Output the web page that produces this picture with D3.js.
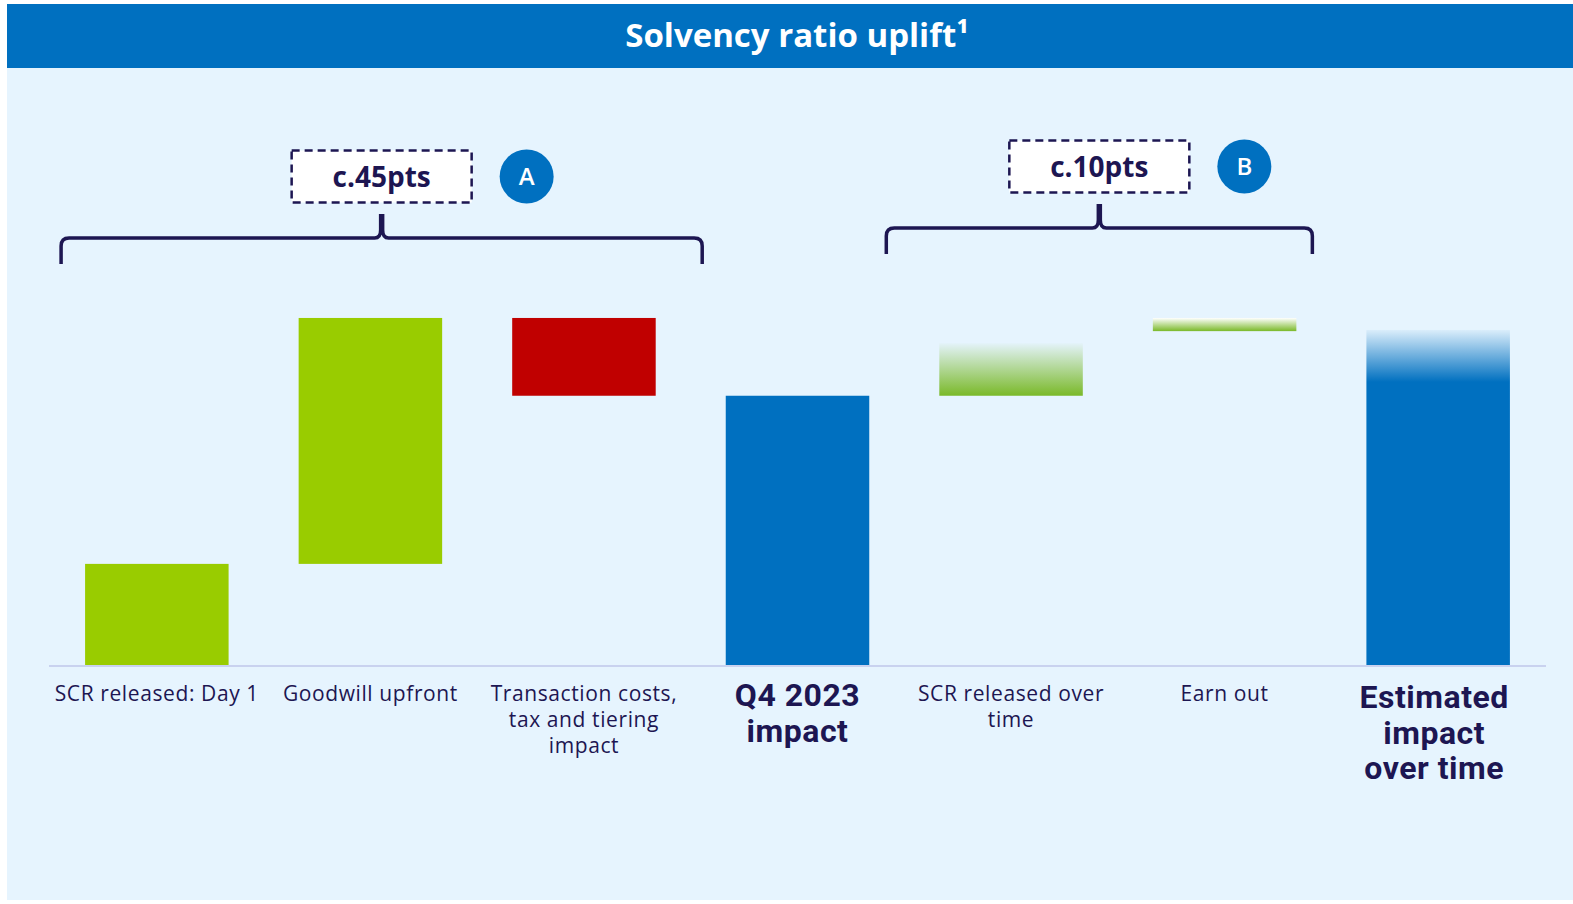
<!DOCTYPE html>
<html>
<head>
<meta charset="utf-8">
<script src="https://cdn.jsdelivr.net/npm/d3@7"></script>
<style>
  html, body { margin: 0; padding: 0; background: #ffffff; }
  svg { display: block; }
  text { font-family: "Open Sans", "Noto Sans", sans-serif; }
</style>
</head>
<body>
<svg id="chart" width="1573" height="904"></svg>
<script>
// ---- data (in solvency points) ----
const categories = ["SCR released: Day 1", "Goodwill upfront", "Transaction costs, tax and tiering impact",
  "Q4 2023 impact", "SCR released over time", "Earn out", "Estimated impact over time"];
const labelLines = [["SCR released: Day 1"], ["Goodwill upfront"], ["Transaction costs,", "tax and tiering", "impact"],
  ["Q4 2023", "impact"], ["SCR released over", "time"], ["Earn out"], ["Estimated", "impact", "over time"]];
const barStart = [0, 16.9, 58, 0, 45, 55.8, 0];
const barEnd   = [16.9, 58, 45, 45, 53.8, 58, 56];
const barKind  = ["up", "up", "down", "total", "upFade", "upFadeWhite", "totalFade"];
const isTotal  = [false, false, false, true, false, false, true];
const groupLabels = ["c.45pts", "c.10pts"];
const groupLetters = ["A", "B"];
const groupFrom = [0, 4];
const groupTo = [2, 5];
const yMax = 60;

// ---- layout ----
const svg = d3.select("#chart");
const W = 1573, H = 904;
const navy = "#1d1652";
const blue = "#0070c0";
const green = "#99cc00";
const red = "#c00000";
const bg = "#e6f4fe";

svg.append("rect").attr("x", 7).attr("y", 4).attr("width", W - 7).attr("height", 896).attr("fill", bg);
svg.append("rect").attr("x", 7).attr("y", 4).attr("width", W - 7).attr("height", 64).attr("fill", blue);
svg.append("text").attr("x", 797).attr("y", 47).attr("text-anchor", "middle")
  .attr("fill", "#ffffff").attr("font-weight", 700).attr("font-size", 33)
  .text("Solvency ratio uplift¹");

const x = d3.scaleBand().domain(categories).range([49, 1546]).paddingInner(0.328).paddingOuter(0.169);
const y = d3.scaleLinear().domain([0, yMax]).range([665, 306]);

// gradients
const defs = svg.append("defs");
const g1 = defs.append("linearGradient").attr("id", "fadeGreen").attr("x1", 0).attr("y1", 1).attr("x2", 0).attr("y2", 0);
g1.append("stop").attr("offset", "0%").attr("stop-color", "#7ab929");
g1.append("stop").attr("offset", "100%").attr("stop-color", "#7ab929").attr("stop-opacity", 0.02);
const g2 = defs.append("linearGradient").attr("id", "fadeGreenWhite").attr("x1", 0).attr("y1", 1).attr("x2", 0).attr("y2", 0);
g2.append("stop").attr("offset", "0%").attr("stop-color", "#7ab929");
g2.append("stop").attr("offset", "100%").attr("stop-color", "#ffffff");
const g3 = defs.append("linearGradient").attr("id", "fadeBlue").attr("x1", 0).attr("y1", 1).attr("x2", 0).attr("y2", 0);
g3.append("stop").attr("offset", "0%").attr("stop-color", blue);
g3.append("stop").attr("offset", "84.5%").attr("stop-color", blue);
g3.append("stop").attr("offset", "100%").attr("stop-color", blue).attr("stop-opacity", 0.05);

const fillFor = { up: green, down: red, total: blue, upFade: "url(#fadeGreen)", upFadeWhite: "url(#fadeGreenWhite)", totalFade: "url(#fadeBlue)" };

// baseline
svg.append("line").attr("x1", x.range()[0]).attr("x2", x.range()[1]).attr("y1", y(0) + 1).attr("y2", y(0) + 1)
  .attr("stroke", "#c9d2ef").attr("stroke-width", 2);

// bars
svg.append("g").selectAll("rect").data(categories).join("rect")
  .attr("x", d => x(d))
  .attr("width", x.bandwidth())
  .attr("y", (d, i) => y(Math.max(barStart[i], barEnd[i])))
  .attr("height", (d, i) => Math.abs(y(barStart[i]) - y(barEnd[i])))
  .attr("fill", (d, i) => fillFor[barKind[i]]);

// labels
const lab = svg.append("g");
categories.forEach((c, i) => {
  const cx = x(c) + x.bandwidth() / 2 - (i === 6 ? 4 : 0);
  const big = isTotal[i];
  const lh = big ? 35.5 : 26;
  const y0 = big ? (i === 6 ? 708 : 706) : 701;
  const t = lab.append("text").attr("text-anchor", "middle").attr("fill", navy)
    .attr("font-size", big ? 32 : 21).attr("font-weight", big ? 700 : 400)
    .attr("letter-spacing", big ? 0.5 : 0.6)
    .style("font-family", big ? "Roboto, 'Open Sans', sans-serif" : null);
  labelLines[i].forEach((ln, k) => {
    t.append("tspan").attr("x", cx).attr("y", y0 + k * lh).text(ln);
  });
});

// braces and annotations
const braceY = [238, 228];
const boxCY = [176.5, 166.5];
const braceLeftOff = [-24, -53];
const braceRightOff = [46.5, 16];
groupLabels.forEach((g, i) => {
  const xa = x(categories[groupFrom[i]]) + braceLeftOff[i];
  const xb = x(categories[groupTo[i]]) + x.bandwidth() + braceRightOff[i];
  const xm = (xa + xb) / 2;
  const by = braceY[i];
  const r = 8;
  const p = d3.path();
  p.moveTo(xa, by + 26); p.lineTo(xa, by + r); p.quadraticCurveTo(xa, by, xa + r, by);
  p.lineTo(xm - 7, by); p.quadraticCurveTo(xm - 1, by, xm - 1, by - 8); p.lineTo(xm - 1, by - 24);
  p.moveTo(xm + 1, by - 24); p.lineTo(xm + 1, by - 8); p.quadraticCurveTo(xm + 1, by, xm + 7, by);
  p.lineTo(xb - r, by); p.quadraticCurveTo(xb, by, xb, by + r); p.lineTo(xb, by + 26);
  svg.append("path").attr("d", p.toString()).attr("fill", "none").attr("stroke", navy)
    .attr("stroke-width", 3.5).attr("stroke-linejoin", "round");

  const cy = boxCY[i];
  svg.append("rect").attr("x", xm - 90).attr("y", cy - 26).attr("width", 180).attr("height", 52)
    .attr("fill", "#ffffff").attr("stroke", navy).attr("stroke-width", 2.5).attr("stroke-dasharray", "8,5");
  svg.append("text").attr("x", xm).attr("y", cy + 10).attr("text-anchor", "middle").attr("fill", navy)
    .attr("font-size", 28).attr("font-weight", 700).text(g);
  svg.append("circle").attr("cx", xm + 145).attr("cy", cy).attr("r", 27).attr("fill", blue);
  svg.append("text").attr("x", xm + 145).attr("y", cy + 8.5).attr("text-anchor", "middle").attr("fill", "#ffffff")
    .attr("font-size", 24).attr("font-weight", 600).text(groupLetters[i]);
});
</script>
</body>
</html>
